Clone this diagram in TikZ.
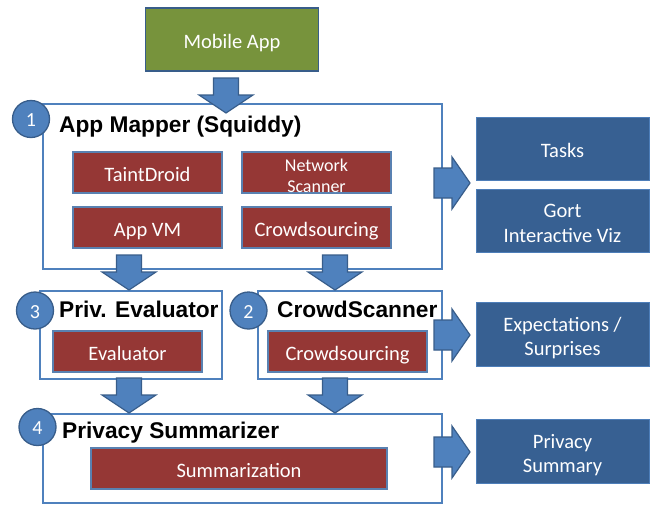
\documentclass[tikz,border=0pt]{standalone}
\usepackage{fontspec}
\setmainfont{Carlito}
\newfontfamily\titlefont{Liberation Sans}
\definecolor{ablue}{HTML}{4F81BD}
\definecolor{adark}{HTML}{385D8A}
\definecolor{ared}{HTML}{953735}
\definecolor{agreen}{HTML}{77933C}
\definecolor{rblue}{HTML}{376092}
\begin{document}
\begin{tikzpicture}[x=1pt,y=-1pt,
  container/.style={draw=ablue, line width=1.5pt, fill=white, inner sep=0pt},
  oneline/.style={text height=17pt, text depth=0pt},
  twoline/.style={text height=42pt, text depth=0pt},
  redbox/.style={fill=ared, draw=ablue!80!gray, line width=1.3pt, text=white, align=center, inner sep=0pt,
    minimum width=149pt, minimum height=41pt, font=\fontsize{20.5}{24.5}\selectfont, oneline},
  outbox/.style={fill=rblue, draw=ablue!90!rblue, line width=1pt, text=white, align=center, inner sep=0pt,
    minimum width=173pt, minimum height=63.5pt, font=\fontsize{20.5}{24.5}\selectfont},
  numcirc/.style={circle, fill=ablue, draw=adark, line width=1.3pt, minimum size=37pt, inner sep=0pt,
    text=white, font=\fontsize{20}{24}\selectfont, text height=15pt, text depth=0pt},
  title/.style={anchor=base west, inner sep=0pt, font=\titlefont\bfseries\fontsize{22.7}{26}\selectfont},
  arrowst/.style={fill=ablue, draw=adark, line width=1.2pt, line join=miter},
  pics/downarr/.style={code={\draw[arrowst] (-12.5,-35) -- (12.5,-35) -- (12.5,-18) -- (27,-18) -- (0,0)
      -- (-27,-18) -- (-12.5,-18) -- cycle;}},
  pics/rightarr/.style={code={\draw[arrowst] (-36,-15) -- (-18,-15) -- (-18,-26) -- (0,0)
      -- (-18,26) -- (-18,15) -- (-36,15) -- cycle;}}
]
\useasboundingbox (0,0) rectangle (652,504);

% Mobile App
\node[fill=agreen, draw=adark, line width=1.2pt, minimum width=173pt, minimum height=63pt, inner sep=0pt,
  text=white, font=\fontsize{20.5}{24.5}\selectfont, oneline] (mobile) at (232,39.5) {Mobile App};

% App Mapper
\node[container, minimum width=399pt, minimum height=165pt] (mapper) at (242.5,186.5) {};
\node[numcirc] (c1) at (31,119) {1};
\node[title] (t1) at (59,132) {App Mapper (Squiddy)};
\node[redbox] (taint) at (147.5,172.5) {TaintDroid};
\node[redbox, font=\fontsize{18}{21}\selectfont, text height=39pt, text depth=0pt] (netscan) at (316.5,172.5) {Network\\Scanner};
\node[redbox] (appvm) at (147.5,227.5) {App VM};
\node[redbox] (crowd1) at (316.5,227.5) {Crowdsourcing};

% Priv. Evaluator
\node[container, minimum width=182pt, minimum height=88pt] (priv) at (131,335) {};
\node[numcirc] (c3) at (35,310.5) {3};
\node[title] (t3) at (59,317) {Priv. Evaluator};
\node[redbox] (eval) at (127.5,351.5) {Evaluator};

% CrowdScanner
\node[container, minimum width=184pt, minimum height=88pt] (cs) at (350,335) {};
\node[numcirc] (c2) at (248.5,310.5) {2};
\node[title] (t2) at (277,317) {CrowdScanner};
\node[redbox, minimum width=159pt] (crowd2) at (347.5,351.5) {Crowdsourcing};

% Privacy Summarizer
\node[container, minimum width=399pt, minimum height=89pt] (summ) at (242.5,458.5) {};
\node[numcirc] (c4) at (37.5,427) {4};
\node[title] (t4) at (62,438) {Privacy Summarizer};
\node[redbox, minimum width=296pt] (summz) at (239,468.5) {Summarization};

% Outputs
\node[outbox, oneline] (tasks) at (562.5,149) {Tasks};
\node[outbox, twoline] (gort) at (562.5,221) {Gort\\Interactive Viz};
\node[outbox, twoline] (expect) at (562.5,334.5) {Expectations /\\Surprises};
\node[outbox, twoline] (psum) at (562.5,451.5) {Privacy\\Summary};

% Block arrows
\pic at (226,113) {downarr};
\pic at (129,290) {downarr};
\pic at (335,290) {downarr};
\pic at (129,413) {downarr};
\pic at (335,413) {downarr};
\pic at (470,183) {rightarr};
\pic at (470,335) {rightarr};
\pic at (470,452) {rightarr};
\end{tikzpicture}
\end{document}
